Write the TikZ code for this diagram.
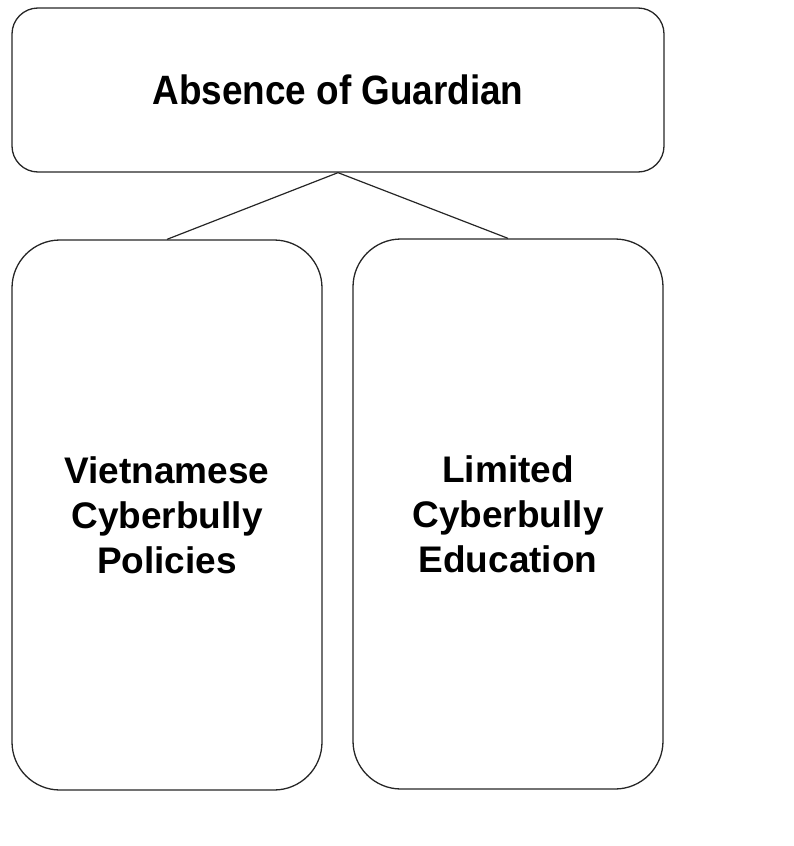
\documentclass[tikz,border=0pt]{standalone}
\usepackage{fontspec}
\usepackage{graphicx}
\setmainfont{Liberation Sans}
\begin{document}
\begin{tikzpicture}[x=1pt,y=-1pt,
  box/.style={draw=black!85, line width=1.3pt, inner sep=0pt, align=center,
    font=\bfseries\fontsize{37}{45}\selectfont},
  topbox/.style={box, rounded corners=26pt, minimum width=652pt, minimum height=164pt},
  tallbox/.style={box, rounded corners=48pt, minimum width=310pt, minimum height=550pt},
  link/.style={draw=black!85, line width=1.2pt}]
\useasboundingbox (0,0) rectangle (793,846);
\node[topbox] (top) at (338,90) {\scalebox{0.9}[1]{\fontsize{41}{45}\selectfont Absence of Guardian}};
\node[tallbox] (left) at (167,515) {Vietnamese\\Cyberbully\\Policies};
\node[tallbox] (right) at (508,514) {Limited\\Cyberbully\\Education};
\draw[link] (top.south) -- (left.north);
\draw[link] (top.south) -- (right.north);
\end{tikzpicture}
\end{document}
